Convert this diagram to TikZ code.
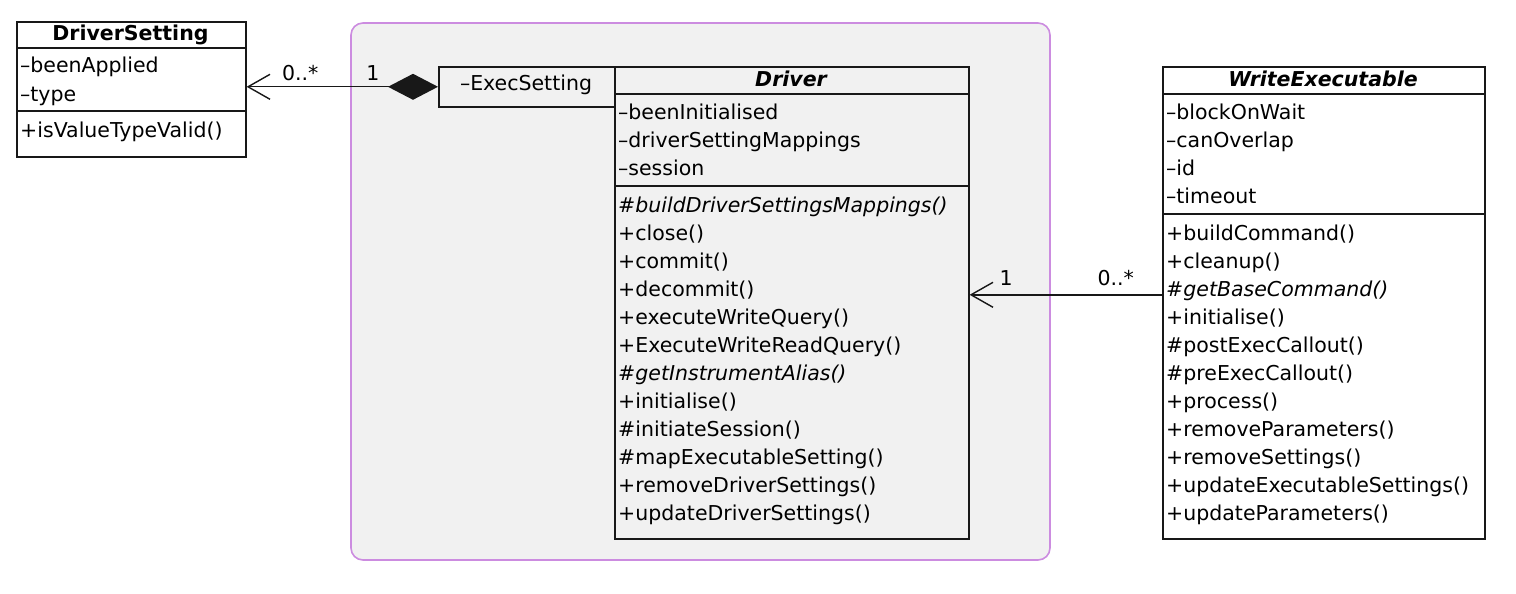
\documentclass[tikz,border=0pt]{standalone}
\usepackage{fontspec}
\setmainfont{DejaVu Sans}
\usetikzlibrary{arrows.meta}

\definecolor{pkgfill}{HTML}{F1F1F1}
\definecolor{pkgline}{RGB}{204,140,224}
\definecolor{umlline}{HTML}{181818}

\begin{document}
\begin{tikzpicture}[x=1pt, y=-1pt,
		font=\fontsize{20.5}{28}\selectfont,
		classbox/.style={draw=umlline, line width=1.6pt, fill=white, inner sep=0pt, anchor=north west},
		member/.style={anchor=base west, inner sep=0pt},
		title/.style={anchor=base, inner sep=0pt, font=\fontsize{20.5}{28}\selectfont\bfseries},
		sep/.style={draw=umlline, line width=1.6pt},
		assoc/.style={draw=umlline, line width=1.4pt},
		mult/.style={anchor=base, inner sep=0pt}]

	\fill[white] (0,0) rectangle (1516,594);
	\useasboundingbox (0,0) rectangle (1516,594);

	% Package
	\draw[draw=pkgline, fill=pkgfill, line width=1.6pt, rounded corners=12pt] (351,23) rectangle (1050,560);

	% Nodes
	\node[classbox, minimum width=229pt, minimum height=135pt] (setting) at (16,21) {};
	\node[title] (settingt) at (130.5,41) {DriverSetting};
	\draw[sep] (16,48) -- (245,48);
	\draw[sep] (16,111) -- (245,111);
	\node[member] (settinga0) at (20,73) {–beenApplied};
	\node[member] (settinga1) at (20,101) {–type};
	\node[member] (settingm0) at (20,137) {+isValueTypeValid()};

	\node[classbox, fill=pkgfill, minimum width=176pt, minimum height=40pt] (exec) at (438,66) {};
	\node[anchor=base, inner sep=0pt] (exect) at (526,90) {–ExecSetting};

	\node[classbox, fill=pkgfill, minimum width=354pt, minimum height=472pt] (driver) at (614,66) {};
	\node[title, font=\fontsize{20.5}{28}\selectfont\bfseries\itshape] (drivert) at (791,87) {Driver};
	\draw[sep] (614,94) -- (968,94);
	\draw[sep] (614,186) -- (968,186);
	\foreach \txt [count=\i from 0] in {–beenInitialised, –driverSettingMappings, –session}
		\node[member] (drivera\i) at (618,119+28*\i) {\txt};
	\foreach \txt [count=\i from 0] in {\textit{\#buildDriverSettingsMappings()}, +close(), +commit(), +decommit(),
			+executeWriteQuery(), +ExecuteWriteReadQuery(), \textit{\#getInstrumentAlias()}, +initialise(),
			\#initiateSession(), \#mapExecutableSetting(), +removeDriverSettings(), +updateDriverSettings()}
		\node[member] (driverm\i) at (618,212+28*\i) {\txt};

	\node[classbox, minimum width=322pt, minimum height=472pt] (writer) at (1162,66) {};
	\node[title, font=\fontsize{20.5}{28}\selectfont\bfseries\itshape] (writert) at (1323,87) {WriteExecutable};
	\draw[sep] (1162,94) -- (1484,94);
	\draw[sep] (1162,214) -- (1484,214);
	\foreach \txt [count=\i from 0] in {–blockOnWait, –canOverlap, –id, –timeout}
		\node[member] (writera\i) at (1166,119+28*\i) {\txt};
	\foreach \txt [count=\i from 0] in {+buildCommand(), +cleanup(), \textit{\#getBaseCommand()}, +initialise(),
			\#postExecCallout(), \#preExecCallout(), +process(), +removeParameters(), +removeSettings(),
			+updateExecutableSettings(), +updateParameters()}
		\node[member] (writerm\i) at (1166,240+28*\i) {\txt};

	% Edges
	\draw[assoc, {Diamond[length=50pt, width=26pt]}-{Straight Barb[length=22pt, width=25pt]}]
		(exec.west) -- (exec.west -| setting.east)
		node[mult, pos=0.34, yshift=6pt] {1}
		node[mult, pos=0.72, yshift=6pt] {0..*};
	\draw[assoc, -{Straight Barb[length=22pt, width=25pt]}]
		([yshift=8pt]writer.west) -- ([yshift=8pt]driver.east)
		node[mult, pos=0.24, yshift=9pt] {0..*}
		node[mult, pos=0.81, yshift=9pt] {1};
\end{tikzpicture}
\end{document}
